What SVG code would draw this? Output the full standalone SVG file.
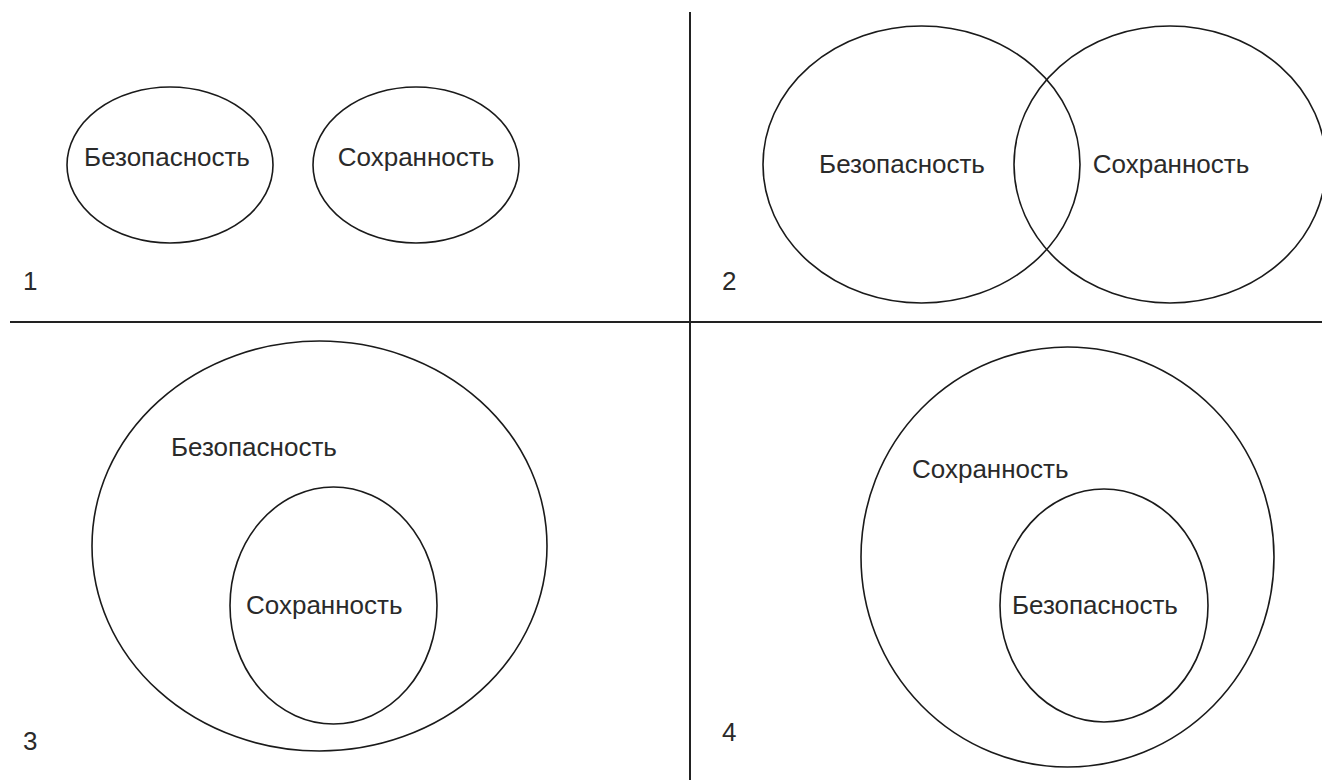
<svg xmlns="http://www.w3.org/2000/svg" width="1322" height="780" viewBox="0 0 1322 780">
<style>
.e{fill:none;stroke:#1a1a1a;stroke-width:1.6}
.d{stroke:#222;stroke-width:2}
text{font-family:"Liberation Sans",Arial,sans-serif;font-size:26px;fill:#2a2a2a}
.m{text-anchor:middle}
</style>
<rect width="1322" height="780" fill="#fff"/>
<g id="dividers">
<line class="d" x1="690" y1="12" x2="690" y2="780"/>
<line class="d" x1="10" y1="322" x2="1322" y2="322"/>
</g>
<g id="q1">
<ellipse class="e" cx="170" cy="165" rx="103" ry="78"/>
<text class="m" x="167" y="166">Безопасность</text>
<ellipse class="e" cx="416" cy="165" rx="103" ry="78"/>
<text class="m" x="416" y="166">Сохранность</text>
<text x="23" y="290">1</text>
</g>
<g id="q2">
<ellipse class="e" cx="921.5" cy="164.5" rx="158.5" ry="138.5"/>
<text class="m" x="902" y="173">Безопасность</text>
<ellipse class="e" cx="1170" cy="164.5" rx="156" ry="138.5"/>
<text class="m" x="1171" y="173">Сохранность</text>
<text x="722" y="290">2</text>
</g>
<g id="q3">
<ellipse class="e" cx="319.5" cy="546" rx="227.5" ry="205"/>
<text x="171" y="456">Безопасность</text>
<ellipse class="e" cx="333.5" cy="605.5" rx="103.5" ry="118.5"/>
<text x="246" y="614">Сохранность</text>
<text x="23" y="750">3</text>
</g>
<g id="q4">
<ellipse class="e" cx="1067.5" cy="557" rx="206.5" ry="210"/>
<text x="912" y="478">Сохранность</text>
<ellipse class="e" cx="1104" cy="605.5" rx="104" ry="116.5"/>
<text x="1012" y="614">Безопасность</text>
<text x="722" y="741">4</text>
</g>
</svg>
